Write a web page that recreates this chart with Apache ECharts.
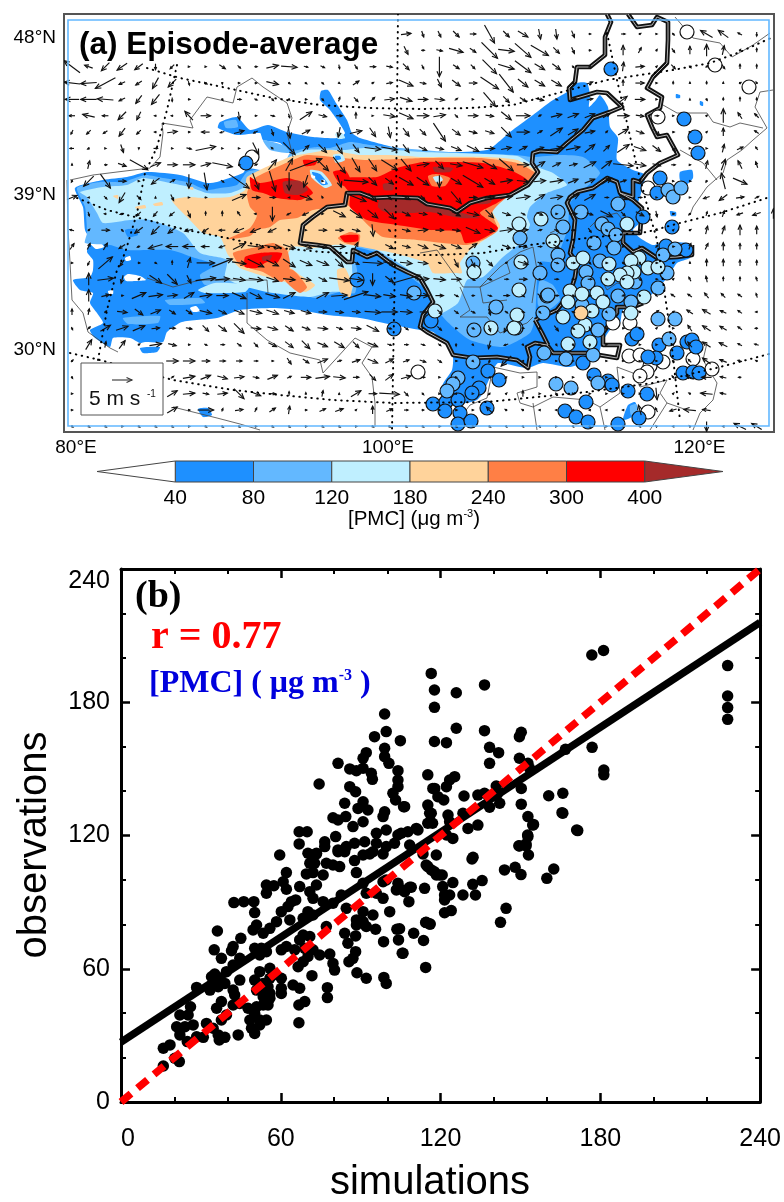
<!DOCTYPE html>
<html><head><meta charset="utf-8"><style>html,body{margin:0;padding:0;background:#fff}#c{width:784px;height:1202px}</style>
<script src="https://cdn.jsdelivr.net/npm/echarts@6/dist/echarts.min.js"></script></head><body><div id="c"></div>
<script>
// ---- Panel (a): all map data are in projected map-plane units (the map is a Lambert plane, parallels curve)
const mapLonTicks=[[76,'80°E'],[388,'100°E'],[699.5,'120°E']];
const mapLatTicks=[[38,'48°N'],[195,'39°N'],[350,'30°N']];
const binColors={c40:'#1E90FF',c80:'#63B8FF',c120:'#BFEFFF',c180:'#FFD39B',c240:'#FF7F45',c300:'#FF0000',c400:'#A52A2A'};
const contour40=[
[[75,188],[103,180],[127,177],[147,172],[180,175],[207,183],[217,182],[243,173],[247,168],[283,173],[287,160],[293,157],[280,143],[263,140],[260,133],[237,135],[218,128],[220,122],[237,117],[250,130],[268,125],[287,132],[313,137],[337,138],[345,133],[330,110],[320,100],[321,91],[328,90],[336,103],[347,120],[352,133],[360,138],[393,147],[420,152],[487,150],[510,132],[533,115],[550,102],[567,92],[577,83],[587,83],[590,95],[589,107],[596,100],[600,95],[608,107],[610,127],[618,138],[617,160],[633,170],[645,175],[640,197],[638,203],[642,220],[633,230],[640,238],[653,245],[665,242],[687,243],[693,250],[690,258],[677,263],[668,277],[653,293],[643,303],[623,310],[620,323],[610,330],[602,343],[597,357],[570,367],[543,363],[527,368],[498,363],[492,373],[483,393],[477,400],[463,403],[442,387],[452,370],[453,357],[448,347],[433,332],[420,330],[393,325],[360,318],[327,315],[300,310],[273,308],[240,310],[217,318],[182,322],[167,332],[163,342],[145,342],[140,343],[130,338],[113,338],[110,347],[95,338],[90,330],[103,323],[97,313],[90,303],[93,293],[80,290],[73,280],[90,277],[93,270],[93,260],[87,252],[90,240],[85,230],[83,207]],
[[140,348],[160,347],[157,352],[143,353]],[[198,409],[208,408],[212,415],[203,417]],[[623,420],[628,405],[635,402],[638,410],[632,417]],
[[676,94],[680,95],[680,98],[676,98]],[[700,101],[703,102],[703,106],[700,105]],[[680,172],[692,170],[693,178],[686,185],[680,180]],[[670,211],[676,212],[676,216],[671,216]]];
const below40=[[[124,277],[128,274],[140,276],[146,280],[135,281],[126,281]],[[125,258],[130,256],[131,260],[126,261]],[[90,243],[100,242],[104,247],[96,249]],[[190,308],[196,306],[200,311],[193,312]],[[108,291],[113,290],[113,294],[109,294]],[[97,343],[101,343],[101,347],[98,347]]];
const contour80=[
[[77,188],[100,182],[123,182],[145,175],[163,178],[187,182],[207,190],[220,188],[237,185],[247,172],[257,170],[280,178],[290,153],[317,147],[330,148],[350,142],[370,145],[423,150],[463,153],[517,155],[533,157],[560,155],[583,157],[600,173],[583,190],[570,203],[568,227],[560,250],[552,262],[540,262],[537,280],[535,318],[530,333],[503,347],[470,340],[453,327],[443,317],[433,302],[423,287],[397,267],[377,253],[353,248],[357,270],[355,293],[340,292],[315,298],[290,290],[245,288],[205,285],[200,275],[215,265],[195,258],[170,250],[127,250],[110,245],[85,243],[87,233],[85,207]],
[[263,140],[285,146],[290,153],[270,150]],[[123,318],[160,316],[158,323],[128,324]],[[165,300],[200,298],[205,303],[170,305]],[[540,280],[553,285],[560,300],[548,310],[538,305]],[[224,122],[236,120],[238,127],[226,128]],[[630,406],[636,404],[637,411],[631,415]]];
const contour120=[
[[80,192],[103,187],[127,185],[143,178],[170,183],[190,187],[207,193],[230,193],[245,187],[248,183],[283,160],[307,150],[343,150],[367,148],[423,152],[517,156],[537,167],[553,173],[567,185],[547,193],[530,207],[527,217],[530,225],[520,243],[503,257],[483,277],[467,280],[458,303],[437,315],[433,303],[430,293],[423,280],[397,262],[377,250],[357,243],[352,262],[352,290],[330,292],[310,297],[267,292],[240,285],[225,277],[227,260],[200,253],[183,233],[150,220],[130,220],[103,223],[97,213],[87,197]],
[[198,290],[215,283],[250,285],[245,292],[205,293]],[[335,134],[342,133],[345,138],[338,139]]];
const contour180=[
[[172,200],[188,197],[203,198],[230,197],[245,190],[247,177],[290,157],[310,153],[330,150],[347,153],[360,155],[390,155],[423,157],[483,157],[517,160],[537,173],[520,185],[503,200],[492,210],[500,227],[480,243],[470,250],[460,263],[462,273],[453,273],[433,273],[427,263],[393,253],[367,248],[350,245],[333,245],[313,248],[293,247],[285,262],[300,275],[315,285],[305,292],[285,282],[260,275],[240,268],[228,255],[220,237],[203,233],[187,217],[177,207]],
[[337,270],[345,268],[352,285],[350,297],[340,292]],[[153,204],[162,202],[163,205],[155,206]],[[135,207],[145,205],[146,208],[137,209]],[[113,196],[118,195],[118,199]],[[187,188],[193,187],[193,190]]];
const contour240=[
[[228,239],[250,228],[257,215],[250,207],[247,193],[255,178],[293,160],[307,155],[367,160],[423,158],[480,158],[517,163],[537,175],[517,190],[500,203],[492,213],[498,230],[483,240],[467,245],[443,243],[417,240],[383,237],[370,227],[353,210],[347,205],[330,208],[313,210],[297,218],[280,220],[270,227],[257,230],[250,236]],
[[233,253],[257,247],[273,243],[287,250],[290,267],[282,282],[263,272],[240,265]],[[280,270],[293,270],[307,287],[300,293],[287,283]],[[338,238],[350,232],[360,235],[358,245],[345,243]]];
const contour300=[
[[345,178],[377,177],[397,168],[423,162],[453,162],[483,163],[510,170],[527,180],[513,193],[497,203],[480,213],[498,228],[480,240],[465,243],[460,232],[430,230],[397,225],[367,220],[350,207],[350,193],[345,187]],
[[250,177],[260,183],[287,178],[303,183],[313,193],[300,200],[277,198],[263,193],[252,190]],[[303,160],[317,161],[315,165],[305,166]],[[333,172],[345,170],[350,178],[350,188],[340,184]],[[245,257],[260,253],[282,253],[277,263],[267,262],[257,268],[245,267]],[[340,236],[358,235],[358,241],[345,242]]];
const contour400=[
[[380,198],[400,196],[420,200],[440,207],[470,215],[480,218],[460,218],[430,212],[410,213],[385,212],[378,207]],[[433,167],[453,168],[450,172],[435,172]],[[383,184],[393,183],[393,190],[384,190]],[[283,182],[300,181],[308,190],[298,195],[285,193]],[[476,198],[493,196],[490,203],[478,204]],[[262,257],[272,255],[270,260],[263,261]]];
const spot240=[[[428,176],[437,174],[450,178],[445,186],[432,186]]];
const spot120=[[[433,177],[440,176],[443,180],[437,183]],[[310,170],[322,172],[332,185],[325,188],[312,178]],[[333,155],[342,154],[345,160],[336,163]]];
const spot40=[[[312,172],[320,174],[328,184],[322,185],[314,177]],[[335,156],[340,156],[341,159],[336,160]],[[125,230],[135,229],[138,235],[128,237]]];
const spotWhite=[[[321,180],[325,180],[325,184],[321,183]],[[311,175],[315,176],[315,178],[312,178]]];
const thickBorders=[
[[607,14],[611,22],[605,37],[605,55],[590,67],[577,67],[575,82],[569,88],[570,100],[587,95],[597,92],[607,93],[622,107],[610,112],[593,118],[583,130],[567,143],[557,152],[540,151],[533,153],[532,163],[538,172],[528,185],[510,195],[487,198],[470,203],[457,212],[450,208],[427,204],[418,198],[393,197],[373,198],[360,193],[347,193],[345,205],[327,207],[313,217],[303,225],[300,243],[317,245],[330,247],[347,262],[352,262],[353,250],[367,257],[377,253],[393,265],[407,272],[420,278],[427,290],[433,302],[423,315],[420,327],[427,332],[447,343],[453,355],[472,358],[497,357],[517,360],[528,368],[530,357],[527,347],[535,343],[547,345],[553,353],[587,353],[617,358],[620,345],[603,345],[603,333],[617,313],[617,307],[633,307],[643,303]],
[[535,320],[542,333],[548,345]],[[535,320],[557,310],[570,293],[575,277],[577,263],[570,253],[573,240],[575,220],[567,203],[570,197],[577,192],[593,188],[607,178],[617,182],[620,193],[633,197],[633,180],[640,182],[647,173],[660,163],[678,155],[667,135],[657,137],[652,127],[647,115],[660,108],[662,97],[647,88],[653,77],[667,63],[668,40],[668,22],[657,17],[652,25],[637,27],[628,14]],
[[620,193],[633,200],[642,208],[640,233],[623,233],[623,243],[633,252],[642,248],[657,258],[677,257],[692,255],[692,245]]];
const thinBorders=[
[[293,157],[287,133],[292,118],[287,103],[263,87],[252,78],[237,87],[233,103],[207,97],[190,120],[193,128],[162,123],[163,133],[160,157],[150,168],[117,172],[93,175],[70,180]],
[[67,180],[68,230],[70,262],[72,300],[83,313],[88,332],[110,348],[118,352]],
[[147,278],[173,287],[200,280],[237,280],[267,280],[268,293]],
[[247,293],[247,323],[267,340],[290,353],[320,360],[323,373],[355,338],[372,347],[362,363],[372,377],[375,403],[375,427]],
[[173,407],[217,418],[240,424],[260,430]],
[[675,17],[693,38],[720,43],[732,57],[753,45],[770,33]],
[[773,90],[760,92],[755,107],[767,128],[753,140],[742,150],[727,160],[723,173],[707,187],[693,207],[690,215]],
[[663,105],[677,113],[707,113],[713,122],[730,127],[740,123],[763,128]],[[680,150],[703,163],[717,180]],
[[420,253],[437,250],[457,278],[463,287],[480,287],[500,267],[520,252],[533,247],[537,270],[532,303]],
[[507,263],[510,273],[480,287],[483,303],[507,300]],[[550,233],[563,227],[550,243]],
[[460,287],[470,310],[460,317],[487,317],[500,333],[527,323],[533,317]],
[[493,367],[520,373],[537,372],[537,387],[517,393],[520,403],[533,407],[553,397],[587,400],[600,407],[620,393],[617,367],[633,373],[640,387],[667,380],[660,393],[667,403],[687,410]],
[[707,343],[703,360],[717,383],[713,400],[700,413],[693,430]],[[533,403],[537,430]],[[453,427],[470,405],[487,398],[493,367]],
[[590,227],[600,217],[617,213],[627,225]],[[600,277],[607,290],[617,283],[640,287]],[[605,430],[600,407]],[[650,430],[667,403]]];
const dottedGraticule=[
[[147,68],[180,78],[227,88],[273,98],[320,105],[370,108],[420,109],[470,108],[513,105],[607,80],[673,70],[710,63],[740,52],[773,37]],
[[77,198],[107,210],[147,220],[187,230],[227,238],[267,247],[323,252],[390,255],[437,255],[483,253],[530,245],[587,238],[647,232],[680,223],[720,213],[770,197]],
[[70,353],[100,360],[173,380],[233,390],[280,395],[333,400],[393,403],[487,402],[537,397],[587,392],[653,383],[720,367],[773,353]],
[[177,65],[167,110],[157,147],[145,173],[137,213],[125,253],[117,270],[107,310],[98,360]],
[[398,14],[396,200],[392,431]],
[[607,33],[617,80],[627,123],[637,167],[647,205],[657,240],[670,330],[680,420]]];
// station values: [map x, map y, PMC µg m-3]
const stations=[
[252,157,30],[687,32,30],[715,65,30],[749,87,30],[658,117,30],[648,188,30],[613,323,30],[630,323,30],[629,356,30],[640,355,30],[650,366,30],[663,362,30],[647,372,30],[640,376,30],[693,359,30],[712,369,30],[648,412,30],[418,372,30],
[246,163,60],[611,69,60],[684,119,60],[695,137,60],[698,153,60],[660,178,60],[657,193,60],[643,217,60],[672,227,60],[357,280,60],[394,329,60],[431,321,60],[632,339,60],[637,334,60],[583,363,60],[488,371,60],[499,380,60],[479,388,60],[472,393,60],[433,404,60],[446,402,60],[458,400,60],[445,411,60],[460,413,60],[458,424,60],[471,421,60],[487,408,60],[594,375,60],[608,381,60],[612,385,60],[628,391,60],[647,394,60],[586,402,60],[565,411,60],[576,417,60],[588,422,60],[618,424,60],[639,418,60],[666,246,60],[686,250,60],[659,345,60],[687,342,60],[692,340,60],[696,347,60],[677,353,60],[656,358,60],[648,357,60],[683,373,60],[693,372,60],[699,373,60],
[668,190,100],[673,197,100],[681,188,100],[473,263,100],[414,293,100],[520,238,100],[558,212,100],[563,227,100],[558,255,100],[558,265,100],[540,273,100],[547,296,100],[496,307,100],[543,313,100],[474,330,100],[516,328,100],[548,295,100],[581,212,100],[618,204,100],[602,224,100],[608,229,100],[616,235,100],[594,243,100],[614,248,100],[600,261,100],[586,272,100],[588,283,100],[618,296,100],[631,302,100],[582,305,100],[658,288,100],[667,273,100],[663,255,100],[675,249,100],[635,282,100],[609,314,100],[566,359,100],[544,353,100],[593,355,100],[598,330,100],[658,319,100],[675,319,100],[669,339,100],[473,362,100],[458,378,100],[453,384,100],[447,391,100],[556,384,100],[571,388,100],[598,383,100],
[474,272,150],[519,224,150],[541,219,150],[553,241,150],[521,262,150],[519,290,150],[435,311,150],[517,315,150],[491,328,150],[514,328,150],[573,263,150],[583,258,150],[609,264,150],[639,258,150],[631,261,150],[648,268,150],[658,267,150],[634,272,150],[627,273,150],[620,275,150],[627,282,150],[608,279,150],[570,291,150],[582,294,150],[597,293,150],[603,302,150],[568,302,150],[644,297,150],[627,224,150],[563,317,150],[585,325,150],[578,331,150],[590,342,150],[568,344,150],[592,311,150],[631,313,150],
[581,313,210]];
// wind rows: u,v (m/s) pairs along each model-grid row
const windX0=72, windDX=16.7, windY0=34, windDY=16.35;
const noWind=[0,0,0,0,0,0,0,0,0,0,0,0,0,0,0,0,0,0,0,0,0,0,0,0,0,0,0,0,0,0,0,0,0,0,0,0,0,0,0,0];
const windUV=[
[...noWind,2.5,.3,.5,-1.5,.7,-1.5,1.5,-1.5,1.5,0,2.5,-4.5,1.5,-1.5,2.5,-1.5,.5,-2.5,.3,-2.5,.7,-1.7,.5,0,.3,0,1,0,.5,.3,.3,0,.5,-.5,0,0,-3,1.8,-2.5,1.8,-1,.5,0,-1],
[...noWind,1,-2,.8,0,1.5,-.3,3.5,-1,1.5,-1,4,-4,4,-.5,4,-3.5,4.4,-2.6,1.5,-1.5,.7,-1.5,.5,0,0,0,0,2.5,.7,1.3,.3,.5,.7,-1,0,2,0,3,.5,2.3,.3,.5,0,1],
[-4,3,-2,.7,-2,-2,-2.5,-1.7,-2,-1.5,0,-1.5,-1,-1,.3,0,.3,0,1.5,-1,.7,-.7,.7,0,3,.7,4,-.3,1,-.2,1,-.5,.2,-1,.7,-1,1.5,0,1.5,-.3,1.5,-1.5,.5,-1,0,-5,1.5,-1,1,-1,3.5,-3.5,4,-1.2,4,-3,2.5,-1.5,2,-1.5,.5,-.5,.3,0,0,0,.3,2.3,2.2,.2,.3,.3,1,-1,.5,-.5,.5,.5,.7,-1,0,1.2,0,1],
[-4,.5,-4,-.3,-5,-2.7,-1.5,-.7,-1.5,-1,-1.5,-2.7,-2,-2,.3,-1,.7,-.5,0,-.5,.3,0,.5,0,3,-.7,.5,-.3,.5,-.3,.5,-.5,.3,-.2,1.5,1,.5,.3,1.5,.3,3.5,-1.5,1.5,-.3,1,-2,2,-1.5,2,0,4.5,-3,3.5,-4.5,2.5,-2,2.5,-1.5,2.5,-1.5,.5,0,1.5,.5,0,0,0,1.5,2.2,0,.3,0,0,.7,0,.5,0,.7,0,.5,.5,.3,-.3,.5],
[-3.5,0,-4,0,-4,.3,-1.5,-.7,-1.5,-2,-2,-2.5,0,-1,.5,0,0,0,.3,-.5,1,0,.7,-.3,.5,-.5,.3,-.3,.5,0,.5,-.5,.3,1,1,-1,1,1,2.5,.3,3,-1,2.5,0,2.5,-.3,.7,.5,.3,0,3,-3.5,1.5,-1.5,1.5,-1,2,-.5,.7,-.3,1.5,.3,1.5,.3,0,0,2,1.5,2.5,0,.3,0,0,0,0,.3,.3,-.5,0,.7,0,1,0,.7],
[-1.5,0,-3,.7,-1.5,0,-2,-2,-1,-2,-.5,0,-.5,0,-2,2.2,2.5,0,.3,0,.3,-2,.5,0,1,-.2,.3,-1,3,2,2,-.5,1.5,0,0,1.5,.3,0,3,-.5,3.5,-1.5,3,0,3,.5,.7,-.7,2.5,0,2,-.3,2.5,-2,3.5,0,.7,.3,2.7,.7,2.7,1,2.5,1,1.7,1,3,0,2,-.3,1,0,.3,0,0,0,.3,.3,0,3.5,-1,1.5,-1,1],
[-.5,-1,-1,-1,-1,-.7,-1.5,-2,-1,-1,-.5,0,2.5,.3,.5,0,-2,0,-1,-.3,2.5,.7,-1,-.5,.5,-1.5,.5,-3,2,1,-.3,-.5,-.5,-2.5,3,.7,1.5,-2.2,.5,-2.7,1.5,-2,1.5,-1.5,3,-4.5,2,-1.5,2,-.5,2.2,-.7,2.5,-2.5,3.2,0,1.2,.7,3,2,2.5,1.5,2.5,.5,.5,.5,2.5,1.5,2,-.7,1.5,-1.5,.5,0,.3,0,.3,.3,0,2,0,0,-1,.7],
[-1,0,-.5,-.3,.3,0,.7,-2,0,-.3,1,0,.3,0,1.2,-.3,5,1,.3,0,.3,0,1.5,-3,-.5,.5,3,-3,1.5,1.5,2,-2,1.5,-2.5,1.5,-2,4,-.5,4,-.7,1.5,-2,2,-1,2,-.5,2.5,-1,3,-1.5,2.5,0,2.5,.5,2,1,2,.5,3,.5,3.5,.7,2.5,2,1.5,1.5,3,2,3,-1,2,-1.5,1,-1.5,.3,0,.3,0,.5,2,1.5,.7,-.5,.7],
[0,.5,.5,2,.7,0,2,-.7,4.5,-2.5,2.5,1,2.5,0,3,0,2.5,.7,5,-1,.5,0,.7,.3,2,2.5,1.7,3,8,3,3,-3,3,-4,2,-3.5,2,-3,4,-2.5,2.5,-3,3,.5,2,-2,3,-.5,5,-1.5,3.5,-2,3.5,-3,3,0,2.5,1.5,2,1,2,.5,3,1.5,2.5,2,5,-.5,3,-.5,2,-.5,1,0,.3,0,.5,2,1,2.7,-1,2,-.5,1.5],
[-.3,-.5,-2.5,-2.5,2.5,-3.5,2,0,.3,0,-2,-1.5,1.2,.7,0,-3.5,.7,-4.3,.7,-.5,5,-3.5,1.5,-4,1.5,-5,0,-4.5,-1,-3,.3,0,1,-3,6,-.5,2,-2,2,-1.5,3.5,-2,3,-2,0,-3,2.5,-1.5,5,-3,2.5,-1.5,3,.5,3,-.3,3,.3,3.3,.5,2.5,1,2.5,1,2.5,1.5,1.5,.5,.5,0,0,0,.3,0,.5,0,-.3,-.5,-1,4,3.5,-1.5,0,0],
[2.5,1,-.3,0,.7,-.7,-1.5,-2.5,1,-1,0,.3,.7,-1.5,.3,0,.5,0,0,0,3.5,1.5,2,0,1.5,0,-.3,0,3,-1,-.3,.5,0,0,5,-2,2,-2,1,-1,2,-1,1,-1,1,-1,2.5,-3,2,0,2.5,.3,3,.5,3.5,.5,2.5,1.5,3,.5,3,1.5,2.7,1.5,1,0,2,-1,1,0,.3,0,0,0,.3,0,-1.5,-.5,-2,-1.5,2,.3,1,.5],
[0,0,.3,-1,-.5,0,-1,-.3,-1,-1,-1,-1.2,-1.2,-1,.7,-1.7,0,1,0,1.2,-.7,1,-.5,0,0,-3.5,-1,-.5,-1.5,-.7,.3,0,3,-1.5,3,-2,2.5,-2,2.5,-2.5,2,-1,2,-.3,1,-.5,2,-1,3,-.7,2,-2,2,-.7,1,-.5,1.5,-.7,.5,0,2,0,1.5,-.5,3,-1.5,1,-1,2,-1,.3,-1.5,.5,0,-.5,-.5,.3,1,.5,1.5,-1.5,-.5,-2,-.7,0,2.5],
[-1,.3,.5,.5,2,0,.5,-.5,-2,-1.5,-2,-2,-2,-1.5,-2,-.5,-1.5,-1,-1.5,0,-2.5,-1,-2.5,-1,-2,-1,.3,0,.3,0,2,0,2,0,2,-.5,.3,-3,.5,-.5,2,-.5,2.5,.3,2,0,2,-.3,3.5,-1.5,2.5,-.5,3.3,.5,2.5,.3,1,.3,1,-.5,1,0,.7,-1,.5,-.5,.5,0,.3,0,.3,0,.3,.3,.5,.3,.5,2,.7,2,0,2.5,0,2],
[1,1.5,.7,1.5,1,1.7,-1.5,-1,-.7,-.3,-3.5,-1,-3,0,-3,0,-2,0,-1.5,-.5,3,1.5,4,-.5,4,-.5,3,-1,3,-1,2.5,-.5,3,0,1,2,0,0,2,-1,2,-.5,2.5,-1,3,-1,2.5,-1,2,1.5,-.3,0,2,-.7,2,-.3,1,0,1.5,-1,.5,-.5,.7,0,.3,-.5,.3,0,.3,0,.5,.5,.5,0,.5,1.5,.7,1.5,0,2,0,1.5,0,1.5],
[.3,0,-.5,-1,3.5,3,-1,-1.5,.5,0,.5,-.3,0,1,.7,2.5,4.5,0,5,2,3.5,-.5,4,-2,3,-1.5,3,-2,3,-1.3,3,-1.2,2,-2,1.5,-.7,5,-.3,3,-.5,3,-.3,2.5,-.3,.7,-.3,1,-2,1,-2,1.5,-1.5,.5,.3,2.5,-.7,1,-.5,1,-.3,1,0,.5,-.5,.5,0,.5,-.5,.3,-.5,.5,0,.5,.3,0,.5,0,1.7,0,1.7,0,1.5,0,1.3],
[0,0,0,3,4,.5,-.5,-2,.5,.5,3,-2,2.5,-2.5,1,-2,5,.7,3.5,.3,3,-.5,3.5,-.5,3,-1,3,-.3,2.5,-.5,2,-1,5,-.7,3.5,-.5,0,-3,2,-1.5,7,2,3,.3,3,-.3,2.5,0,1,-.5,1,-.3,1,0,2,0,.5,0,1,0,.7,0,1,0,.5,-.3,.5,.3,.7,-.5,.5,0,.3,.3,-.5,1,-.3,1.5,0,1,0,1,-.3,1],
[0,0,0,3,2,.5,.5,0,3.5,1.5,3.5,.5,2.5,.3,2.5,1.5,3,.5,3,0,3.5,-1.5,3,-1.5,3.5,-1,3,1.5,0,0,3,1.5,4,.3,6,2,4,-.5,3,-.5,3,-.5,3,0,2,0,1,-.5,.7,0,1,-.3,1.5,0,.7,-.5,1,-1,1,0,.3,-.5,.5,0,.5,-.5,.7,.3,-.3,.5,-.5,.7,-1,.7,-1,.7,-1,1.3,-1,1,-1,.7,-.3,1],
[0,1.5,.3,1.5,.5,.5,2.5,-.3,2,-1.5,2.5,1,1.5,-1,1.5,-1,3,-.7,2,-1,2.5,-1,3,-.7,3,-1,2.5,-.7,2.5,-.7,2,0,2,-.3,2,-.2,4,-.3,4,0,3,-.2,1.5,0,1,-1,1,-.7,1,-.5,.5,-1.5,.7,-.5,.7,-.3,.5,-.5,.7,-.5,.7,-.3,.5,0,.3,-.3,.3,0,-.5,.3,1,.7,.5,.3,-1.5,1,-2,1.2,-1.5,.7,-1,.7,-.5,0],
[.3,-.7,.7,.7,2.5,1.5,3,1,3,1.3,2,.2,1.5,0,1.5,-.3,1.5,-1.5,2,-1.5,2.5,-2.5,2.5,-.3,2.5,-.7,2,-1.3,2,-.7,2.5,-.3,1.5,-.5,2.5,-.3,3,-1.5,1,-.3,1,-.7,.5,0,1,-1,.5,0,.7,-.3,.5,-1.5,-1,-2,.5,0,.3,-.3,1,-1.3,.7,-.5,.3,-1,.3,0,.5,0,.3,-.3,.3,.3,.3,0,-1,1.5,-2,1.3,-1.7,1,-1,.7,-.7,0],
[0,0,1.5,2.5,.3,1.5,1.5,2,.5,.3,3,.5,2,-.5,.5,0,.7,-.3,1,0,1,-.7,1,-1,2,-1,2,-1.5,2,-2,2.5,-1,2.5,-1.5,1.5,-1.5,2.5,-1,1,-.3,1,0,1,-.3,.7,-.5,0,-.7,.3,-.3,-.5,-2,-1,-.3,.3,-.3,.3,0,.3,-.5,.3,-.5,0,-.7,.3,0,0,0,.3,0,.3,0,.3,.3,-1,1.3,-2,1.3,-2,1,-1,.5,-1,.3],
[.5,.5,0,0,0,0,0,0,0,0,0,0,3,0,3,0,2,0,1.5,0,1.5,0,1,0,.5,0,1,-1.5,1.5,-1,2.5,1,1,.3,2,.7,2.5,-1,2,1,1.5,.5,1.5,-.5,1,-.7,.5,0,.3,-.3,-.3,-.7,-2.5,-2.5,-.3,0,.3,0,.3,0,.3,0,0,0,.3,0,.3,0,.3,0,.3,0,.3,0,-.7,.7,-2,1.5,-1.7,.7,-1,.3,-.5,.3],
[.3,-.5,0,0,0,0,0,0,0,0,0,0,.7,.5,3,.5,2.5,1,2.5,-.7,2.5,.3,1.5,-.3,2.5,1,1,.5,2.5,0,3.5,.5,3,-.3,1.5,0,1.5,-1.5,2,1.5,2.5,.7,1,0,.3,0,.3,0,.3,.3,-.3,0,-.5,-.5,.3,0,.3,0,.3,0,.3,0,.3,0,.3,0,.3,0,.3,0,.3,0,-.5,.7,-2,.7,-2.5,0,-1.5,.3,-.7,0],
[.3,0,0,0,0,0,0,0,0,0,0,0,2.5,1.5,3,.3,1.5,-.3,2.5,.3,2.5,-2.5,2.5,-1,1.5,0,0,1,0,.5,.3,1.5,0,.3,2.5,1.5,2,0,5,-.3,1,-1,.5,-.5,.3,0,-.5,0,.3,0,-.5,-.5,.3,.3,0,1.5,.3,0,.3,0,.3,0,.3,0,.3,0,.3,0,.3,0,.3,-3,.3,.3,-.5,.3,-3,.3,-1.5,.3],
[.3,0,0,0,0,0,0,0,0,0,0,0,2.5,1.5,.5,0,4,0,.3,.7,2,.3,.5,1,1.5,1,.3,2,.5,0,1.5,.7,2,.7,.3,.3,0,2,1.5,.7,1,0,.5,0,.3,0,.5,0,.3,0,-1.5,1.5,-.5,.3,-.5,.3,-.3,0,-.3,0,-.3,0,-.3,0,-.3,0,-.3,0,-.7,2.5,-.5,1,-1.7,-.5,-3,.3,-2,.3],
[.5,-.3,.5,-.3,.5,-.3,.5,0,.5,-.3,.5,-.3,.5,-.3,.5,0,.5,-.3,.5,-.3,.5,-.3,.5,0,.5,-.3,.5,-.3,.5,0,.5,-.3,.5,-.3,.5,0,.5,-.3,.5,-.3,.5,-.3,.5,-.3,.5,0,.5,-.3,.5,-.3,.5,-.3,.3,-.3,.3,-.3,.3,-.3,.3,0,.3,-.3,.3,-.3,.3,0,.3,-.3,.3,-.3,-.3,.3,-.3,0,-.3,.3,0,-2.5,-.3,0,-3,1.5,-2.5,1.5]];
const windKey=[[122,380,5,0]];
const keyBox=[[81,363],[163,415]];
const innerFrame=[[68,20],[769,426]];
// colour bar
const cbarLevels=['40','80','120','180','240','300','400'];
const cbarColors=[binColors.c40,binColors.c80,binColors.c120,binColors.c180,binColors.c240,binColors.c300];
// ---- Panel (b)
const tickSim=[0,60,120,180,240];
const oneToOne=[[0,0],[240,240]];
const regression=[[0,27],[240,216]];
const simObs=[[15.9,24.2],[18.4,25.7],[15.9,16.2],[20.2,19.7],[21.9,18.2],[22.1,39.2],[25.2,39.2],[26.1,42.9],[20.9,33.9],[27.1,34.7],[24,33.9],[22.1,30.2],[24.9,27.2],[28.4,29.4],[30.9,29.1],[32.1,35.4],[34.6,33.2],[36.5,30.2],[36.9,27.9],[39,29.1],[44,30.2],[37.7,36.9],[39.6,39.2],[37.7,45.2],[35.9,42.2],[28.4,51.6],[34,56.4],[35.2,57.6],[33.4,50.4],[36.5,51.9],[39,53.4],[35.9,54.2],[42.1,50.4],[44.6,54.9],[42.7,48.2],[44.6,44.4],[42.1,43.7],[47.7,42.2],[50.2,39.9],[52.1,36.9],[54.6,36.9],[49,33.2],[50.2,30.9],[52.1,34.7],[48.4,36.9],[50.9,42.9],[53.4,43.7],[55.2,43.7],[53.4,47.4],[55.9,48.9],[50.9,50.4],[50.2,54.9],[53.4,53.4],[55.9,60.2],[52.1,58.7],[55.9,55.7],[60.2,55.7],[60.2,51.2],[60.2,48.9],[64.6,52.7],[67.1,51.2],[69,45.2],[66.8,43.7],[66.8,35.7],[71.7,56.9],[77.5,51.5],[77.5,47],[80.2,59.4],[79.6,62.4],[78.4,66.6],[74.6,66.2],[72.1,68.5],[70.2,65.5],[68.4,63.2],[66.5,60.9],[69,69.2],[37.7,64.7],[35,68.5],[36.2,77],[42.1,70],[41.5,68.1],[45,73.7],[44.6,64.7],[42.1,61.7],[39.6,58.7],[50.2,69.2],[52.7,69.2],[49.6,77.5],[50.9,79.7],[53.4,76],[55.9,78.2],[58.4,81.2],[60.2,85.7],[63.4,82],[52.1,66.2],[54.6,67.7],[60.2,68.5],[62.1,70],[65.2,68.5],[67.1,73],[68.4,75.2],[70.9,74.5],[42.4,89.8],[46.1,90.2],[49.9,90.2],[50.2,85.3],[54.6,97.7],[57.4,97.4],[54.6,94],[62.1,103.3],[60.9,99.2],[62.1,95.8],[64,90.2],[65.6,91],[62.7,88],[67.1,97],[69.6,102.7],[72.1,103.3],[73.4,97.7],[70.9,94.7],[72.1,91.7],[75.9,102.2],[71.5,111.2],[73.4,111.7],[70.9,107.5],[72.7,107.5],[77.1,107.5],[79.6,106.7],[82.1,106],[81.5,112.7],[84,112.7],[90.9,111.2],[93.4,111.7],[98.4,111.7],[87.7,108.7],[88.4,103.3],[75.9,90.2],[79.6,89.5],[82.7,93.2],[70.2,85.7],[68.4,82.7],[72.1,84.2],[77.1,79],[90.9,98.5],[98.4,99.2],[99.6,100],[104,98.5],[103.4,95.5],[106.5,94.7],[109,96.7],[108.1,90.2],[100.9,85.7],[98.4,91.7],[95.9,94],[92.1,94],[114,96.2],[115.2,106],[117.7,103.7],[119.6,102.2],[84.6,87.2],[90.9,85.7],[94.6,84.2],[88.4,82],[90.9,81.2],[92.1,79],[88.4,79.7],[95.6,77.8],[84,76],[88.1,74.8],[85.2,71.5],[88.1,67.7],[87.1,64.7],[85.6,63.2],[88.6,58.2],[92.1,55.7],[98.7,56.1],[99.6,53.4],[98.6,72.2],[103.6,77.8],[104.2,73],[105.6,67],[109.9,76],[113.6,72.7],[114.4,80.8],[115.9,80.2],[114.4,60.6],[57.1,57.2],[55.2,51.9],[53.4,50.4],[55.9,46.7],
[116.5,193],[117.7,185.5],[117.7,177.7],[117.7,162.3],[99,174.7],[99.6,166.8],[95.2,164.5],[104.9,162.7],[99,159.3],[99,155.5],[100.6,152.5],[81.5,152.5],[92.1,157.3],[90.9,154.8],[90.9,150.3],[88.4,149.2],[85.9,150],[94,148],[94.4,145.3],[74.4,143.2],[104,149.2],[104,145],[104,142],[102.1,139],[103.1,136],[106.1,133],[115.2,147.3],[117.1,141.2],[85.9,142],[88.1,139.7],[84,134.5],[90.9,135.2],[89,132.2],[92.7,131.5],[99,130.7],[98.4,128.5],[79.6,128],[81.5,127],[84.4,128.5],[87.1,124],[90.9,126.2],[99.6,122.5],[115.2,133.7],[115.9,130],[115.2,125.5],[110.9,123.2],[107.7,121.7],[104,120.2],[66.9,121.7],[69.9,121.7],[66.9,116.2],[80.6,119.5],[76.5,117.2],[76.5,115],[59.6,111.2],[70.2,112],[73.4,112],[84.6,115],[87.7,116.5],[91.5,117.2],[95.9,121],[95.9,116.5],[99.6,115],[102.7,116.5],[81.5,113.5],[94.6,112.7],
[125.9,184.3],[136.5,187.8],[125.9,168.3],[136.5,167.2],[122.2,161.8],[138.4,159.7],[141.8,157.3],[138.4,152.5],[150.3,166.5],[149.6,164.5],[149.6,154.8],[152.8,152.5],[153.4,150.3],[125.3,146.5],[123.4,145],[122.2,142],[117.8,141.2],[119,137.5],[121.2,136],[128.8,137.8],[134,138.2],[136.5,139],[140.9,142.3],[141.5,139],[150.3,141.2],[142.2,134.5],[138.4,132.7],[150.3,134.1],[128.4,130],[122.8,129.2],[123.4,126.2],[134,124.7],[130.3,123.2],[152.8,128.5],[154.6,124.7],[152.8,119.5],[149.6,115.3],[152.1,115.3],[153,111.2],[171.5,122.2],[165.9,130],[160.6,137.9],[165.9,139],[176.9,159.7],[166.9,158.8],[181.3,149.5],[181.3,147.3],[176.8,201.3],[181.2,203.3],[227.8,196.5],[227.8,182.8],[227.8,177.6],[227.8,172.3],[116.5,130],[117,125.5],[118.4,111.2],[124.6,118.7],[122.2,120.2],[132.2,110.2],
[106.5,133],[108.4,115.7],[111.5,122.5],[105.2,121],[113.4,111.7],[131.8,109.4],[114.6,106.7],[116.5,104.5],[118.4,102.2],[120.6,102.2],[120.8,97],[124.6,98.8],[108.4,96.7],[105.9,95.5],[121.5,93.2],[123.4,93.2],[121.5,91],[128.4,93.2],[132.1,98],[135.6,99.7],[133.1,93.2],[121.5,85.2],[124,86.2],[114.6,80.9],[116.1,80.1],[105.9,67],[104.6,78],[144,104.5],[148,105.7],[150.2,102.4],[159.9,100.7],[162.5,104.9],[144.6,87.2],[142.5,80.9],[149.4,115.4],[152.1,116.2],[154.9,125],[152.7,120.2],[171.1,122.5],[165.6,130.3]];

const font='"Liberation Sans",Arial,sans-serif', serif='"Liberation Serif","Times New Roman",serif';
function stationColor(v){return v<40?'#fff':v<80?binColors.c40:v<120?binColors.c80:v<180?binColors.c120:binColors.c180;}
const MAP={xAxisIndex:0,yAxisIndex:0,coordinateSystem:'cartesian2d',silent:true,animation:false,clip:true};
function fillSeries(rings,fill,z){return Object.assign({type:'custom',z:z,data:rings.map((r,i)=>[i]),
  renderItem:(p,api)=>({type:'polygon',shape:{points:rings[p.dataIndex].map(q=>api.coord(q)),smooth:.2},style:{fill:fill}})},MAP);}
function lineSeries(lines,style,z){return Object.assign({type:'custom',z:z,data:lines.map((r,i)=>[i]),
  renderItem:(p,api)=>({type:'polyline',shape:{points:lines[p.dataIndex].map(q=>api.coord(q))},style:Object.assign({fill:null},style)})},MAP);}
const windData=[];
windUV.forEach((row,r)=>{for(let i=0;i*2<row.length;i++){const u=row[2*i],v=row[2*i+1];if(u||v)windData.push([windX0+i*windDX,windY0+r*windDY,u,v]);}});
const pxPerMs=4;
function arrow(api,d,color,w){
  const c=api.coord([d[0],d[1]]),dx=d[2]*pxPerMs,dy=-d[3]*pxPerMs,L=Math.hypot(dx,dy);
  const t=[c[0]-dx/2,c[1]-dy/2],h=[c[0]+dx/2,c[1]+dy/2],ang=Math.atan2(dy,dx),b=Math.min(6,Math.max(2,L*.5)),a=.42;
  const st={stroke:color,lineWidth:w,fill:null};
  return {type:'group',children:[{type:'polyline',shape:{points:[t,h]},style:st},
   {type:'polyline',shape:{points:[[h[0]-b*Math.cos(ang-a),h[1]-b*Math.sin(ang-a)],h,[h[0]-b*Math.cos(ang+a),h[1]-b*Math.sin(ang+a)]]},style:st}]};
}
const series=[
 fillSeries(contour40,binColors.c40,2),fillSeries(below40,'#fff',2),fillSeries(contour80,binColors.c80,2),fillSeries(contour120,binColors.c120,2),
 fillSeries(contour180,binColors.c180,2),fillSeries(contour240,binColors.c240,2),fillSeries(contour300,binColors.c300,2),fillSeries(contour400,binColors.c400,2),
 fillSeries(spot240,binColors.c240,2),fillSeries(spot120,binColors.c120,2),fillSeries(spot40,binColors.c40,2),fillSeries(spotWhite,'#fff',2),
 lineSeries(thinBorders,{stroke:'#444',lineWidth:.8},3),
 lineSeries(thickBorders,{stroke:'#111',lineWidth:4.6,lineJoin:'round'},3),
 lineSeries(thickBorders,{stroke:'#b4b4b4',lineWidth:1,lineJoin:'round'},3),
 Object.assign({type:'scatter',z:4,symbol:'circle',symbolSize:14,data:stations.map(s=>({value:[s[0],s[1]],itemStyle:{color:stationColor(s[2])}})),itemStyle:{opacity:1,borderColor:'#111',borderWidth:1.2}},MAP),
 Object.assign({type:'custom',z:5,data:windData,renderItem:(p,api)=>arrow(api,windData[p.dataIndex],'#111',1.15)},MAP),
 lineSeries(dottedGraticule,{stroke:'#000',lineWidth:2,lineDash:[.5,5.5],lineCap:'round'},5),
 Object.assign({type:'custom',z:6,data:[[0]],renderItem:(p,api)=>{const a=api.coord(innerFrame[0]),b=api.coord(innerFrame[1]);
   return {type:'rect',shape:{x:a[0],y:a[1],width:b[0]-a[0],height:b[1]-a[1]},style:{fill:null,stroke:'#63B8FF',lineWidth:1.6}};}},MAP),
 Object.assign({type:'custom',z:7,data:[[0]],renderItem:(p,api)=>{const a=api.coord(keyBox[0]),b=api.coord(keyBox[1]);
   return {type:'rect',shape:{x:a[0],y:a[1],width:b[0]-a[0],height:b[1]-a[1]},style:{fill:'#fff',stroke:'#555',lineWidth:1}};}},MAP),
 Object.assign({type:'custom',z:8,data:windKey,renderItem:(p,api)=>arrow(api,windKey[p.dataIndex],'#333',1.1)},MAP),
 // colour bar
 {type:'custom',xAxisIndex:1,yAxisIndex:1,silent:true,animation:false,z:3,data:cbarColors.map((c,i)=>[i]),renderItem:(p,api)=>{const i=p.dataIndex,a=api.coord([i,1]),b=api.coord([i+1,0]);
   return {type:'rect',shape:{x:a[0],y:a[1],width:b[0]-a[0],height:b[1]-a[1]},style:{fill:cbarColors[i],stroke:'#444',lineWidth:1}};}},
 {type:'custom',xAxisIndex:1,yAxisIndex:1,silent:true,animation:false,z:3,data:[[0,-1,'#fff'],[6,7,binColors.c400]],renderItem:(p,api)=>{const e=p.dataIndex?[[6,1],[7,.5],[6,0]]:[[0,1],[-1,.5],[0,0]];
   return {type:'polygon',shape:{points:e.map(q=>api.coord(q))},style:{fill:p.dataIndex?binColors.c400:'#fff',stroke:'#444',lineWidth:1}};}},
 // panel b
 {type:'scatter',xAxisIndex:2,yAxisIndex:2,z:3,symbol:'circle',symbolSize:11.5,animation:false,silent:true,itemStyle:{color:'#000',opacity:1},data:simObs},
 {type:'line',xAxisIndex:2,yAxisIndex:2,z:4,data:regression,symbol:'none',animation:false,silent:true,lineStyle:{color:'#000',width:7.5}},
 {type:'line',xAxisIndex:2,yAxisIndex:2,z:5,data:oneToOne,symbol:'none',animation:false,silent:true,lineStyle:{color:'#f00',width:7.5,type:[13,8.5]}}
];
const sAxis=(extra)=>Object.assign({type:'value',min:0,max:240,interval:60,minorTick:{show:true,splitNumber:3,length:5,lineStyle:{color:'#000',width:2}},axisTick:{inside:true,length:9,lineStyle:{color:'#000',width:2.5}},axisLine:{onZero:false,lineStyle:{color:'#000',width:3}},splitLine:{show:false}},extra);
const labS={fontFamily:font,fontSize:25,color:'#000'};
const option={animation:false,
 grid:[{left:64,top:14,width:710,height:418,show:true,borderColor:'#555',borderWidth:2,backgroundColor:'#fff'},
       {left:97,top:461,width:626,height:21},
       {left:121,top:569,width:640,height:533}],
 xAxis:[
  {type:'value',gridIndex:0,min:64,max:774,axisLine:{show:false},axisTick:{show:false},splitLine:{show:false},
   axisLabel:{customValues:mapLonTicks.map(t=>t[0]),formatter:v=>(mapLonTicks.find(t=>t[0]===v)||[0,''])[1],fontFamily:font,fontSize:19,color:'#000',margin:6}},
  {type:'value',gridIndex:1,min:-1,max:7,interval:1,axisLine:{show:false},axisTick:{show:false},splitLine:{show:false},
   axisLabel:{formatter:v=>cbarLevels[v]||'',fontFamily:font,fontSize:21,color:'#000',margin:6,showMinLabel:false,showMaxLabel:false}},
  sAxis({gridIndex:2,position:'bottom',axisLabel:Object.assign({margin:25,alignMinLabel:'left',customValues:tickSim},labS)}),
  sAxis({gridIndex:2,position:'top',axisLabel:{show:false}})],
 yAxis:[
  {type:'value',gridIndex:0,min:14,max:432,inverse:true,axisLine:{show:false},axisTick:{show:false},splitLine:{show:false},
   axisLabel:{customValues:mapLatTicks.map(t=>t[0]),formatter:v=>(mapLatTicks.find(t=>t[0]===v)||[0,''])[1],fontFamily:font,fontSize:19,color:'#000',margin:8}},
  {type:'value',gridIndex:1,min:0,max:1,show:false},
  sAxis({gridIndex:2,position:'left',axisLabel:Object.assign({margin:11,verticalAlignMaxLabel:'top',verticalAlignMinLabel:'middle'},labS)}),
  sAxis({gridIndex:2,position:'right',axisLabel:{show:false}})],
 series:series,
 graphic:[
  {type:'text',z:100,x:79,y:45,style:{text:'(a) Episode-average',font:'bold 31.5px '+font,fill:'#000',verticalAlign:'middle'}},
  {type:'text',z:100,x:89,y:399,style:{text:'5 m s',font:'21px '+font,fill:'#111',verticalAlign:'middle'}},
  {type:'text',z:100,x:147,y:394,style:{text:'-1',font:'10px '+font,fill:'#111',verticalAlign:'middle'}},
  {type:'text',z:100,x:414,y:519,style:{text:'[PMC] (μg m{s|-3}{t|)}',font:'20.5px '+font,fill:'#000',align:'center',verticalAlign:'middle',rich:{s:{fontSize:11,verticalAlign:'top',fontFamily:font},t:{fontSize:20.5,fontFamily:font}}}},
  {type:'text',z:100,x:135,y:597,style:{text:'(b)',font:'bold 38px '+serif,fill:'#000',verticalAlign:'middle'}},
  {type:'text',z:100,x:151,y:638,style:{text:'r = 0.77',font:'bold 40px '+serif,fill:'#f00',verticalAlign:'middle'}},
  {type:'text',z:100,x:149,y:684,style:{text:'[PMC] ( μg m{s|-3}{t| )}',font:'bold 32px '+serif,fill:'#0000DD',verticalAlign:'middle',rich:{s:{fontSize:16,fontWeight:'bold',fontFamily:serif,verticalAlign:'top',fill:'#0000DD'},t:{fontSize:32,fontWeight:'bold',fontFamily:serif,fill:'#0000DD'}}}},
  {type:'text',z:100,x:430,y:1183,style:{text:'simulations',font:'40px '+font,fill:'#000',align:'center',verticalAlign:'middle'}},
  {type:'text',z:100,x:35,y:845,rotation:Math.PI/2,style:{text:'observations',font:'40px '+font,fill:'#000',align:'center',verticalAlign:'middle'}}
 ]};
echarts.init(document.getElementById('c'),null,{renderer:'canvas'}).setOption(option);
</script></body></html>
